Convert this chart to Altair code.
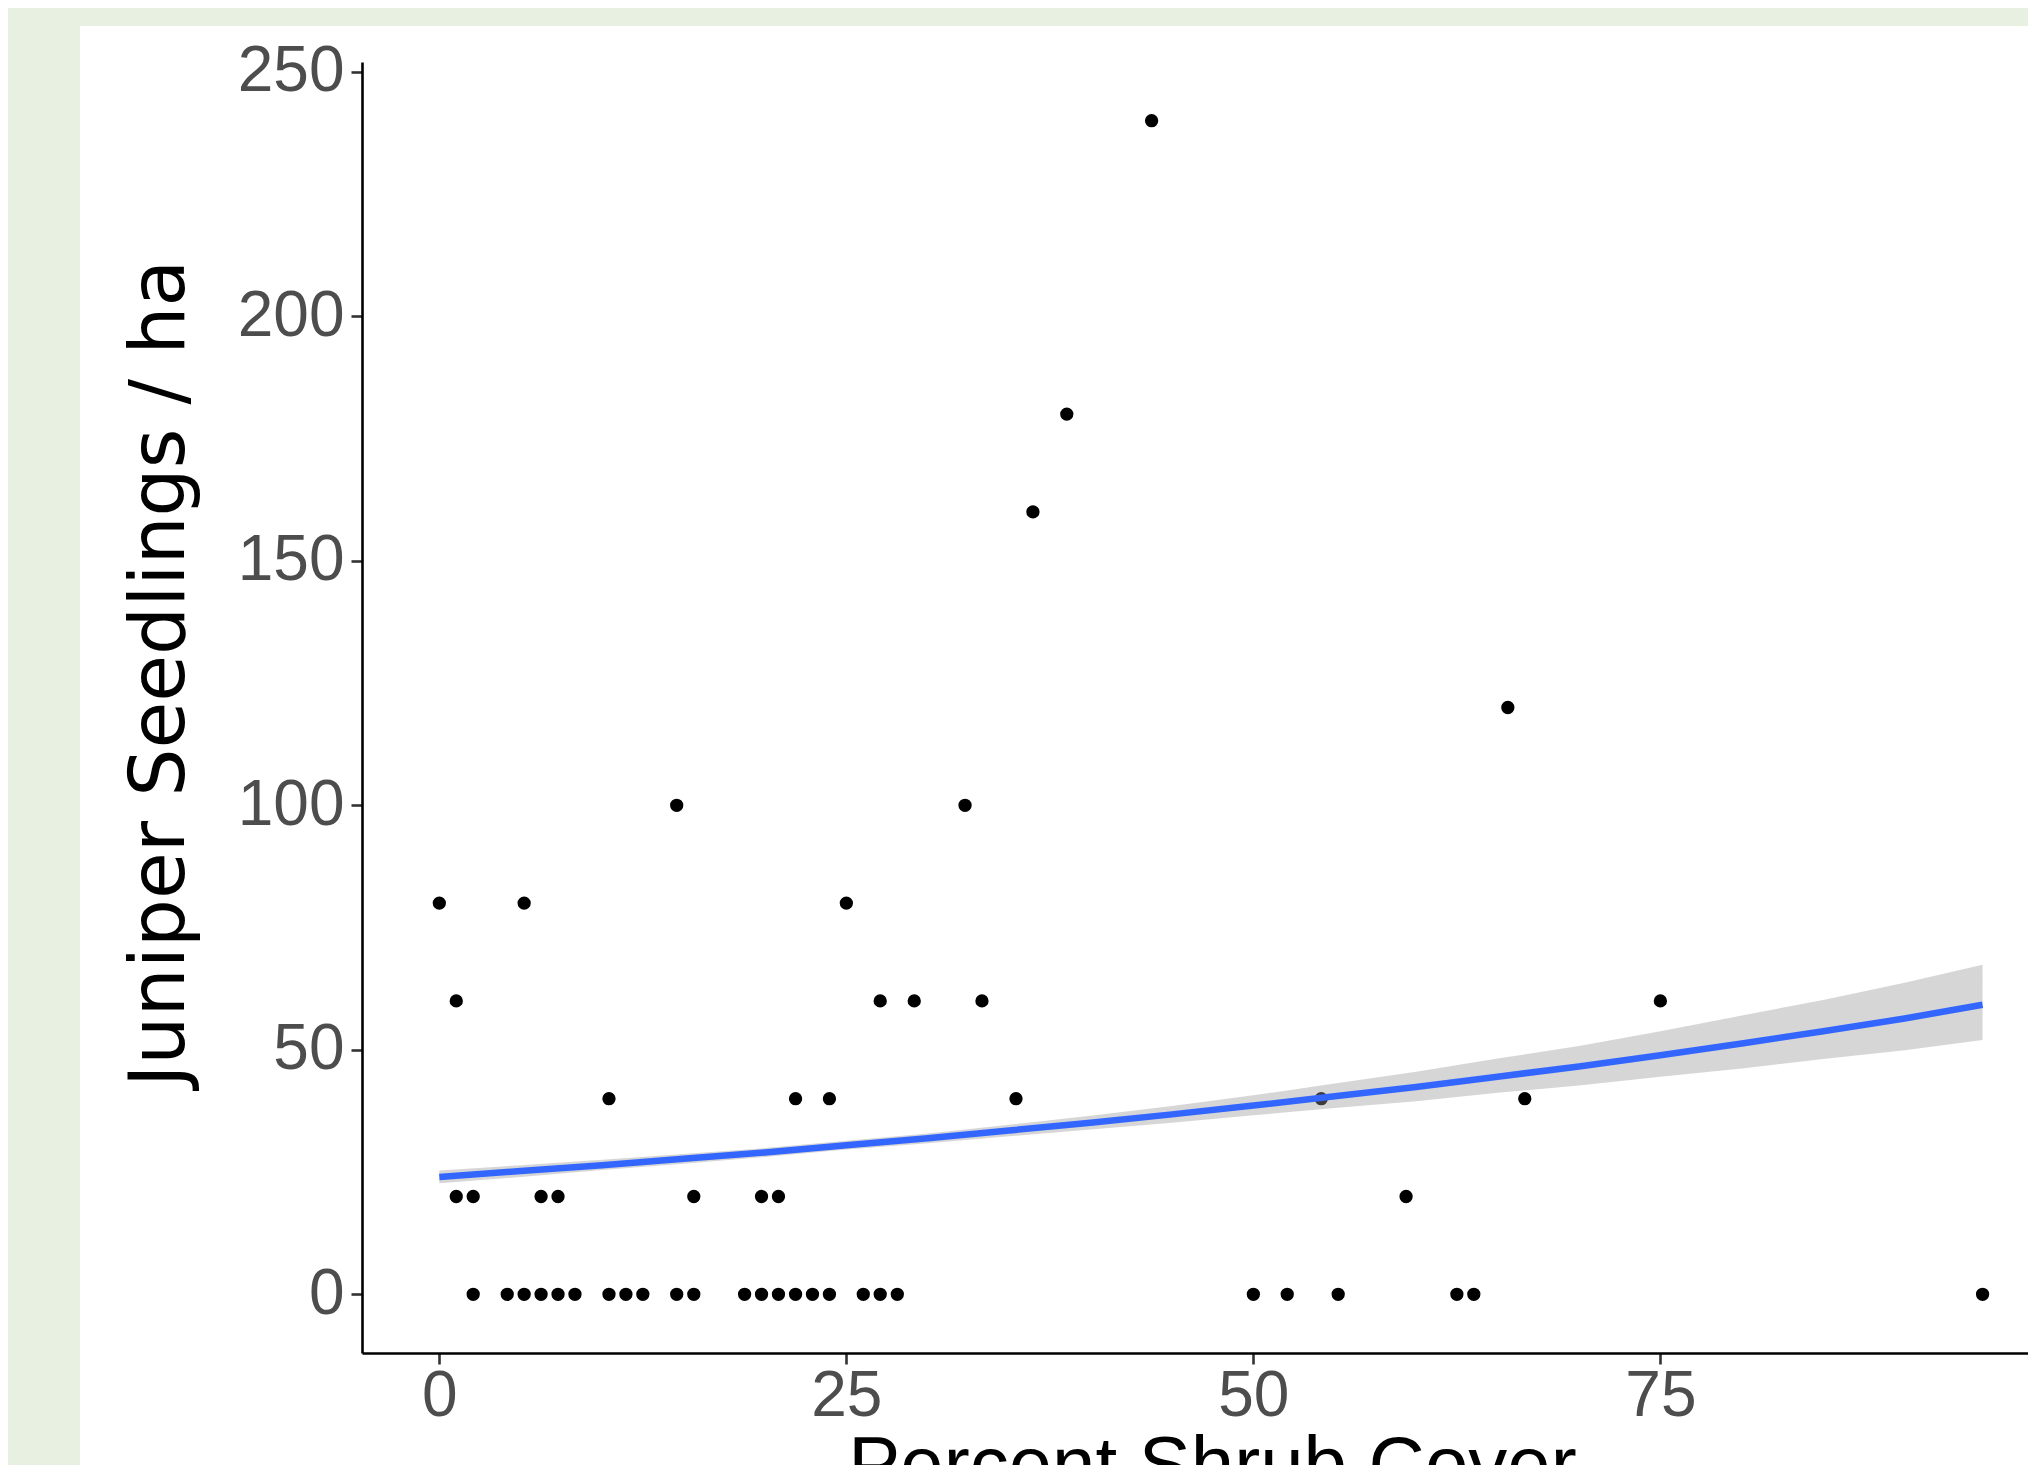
import altair as alt
import pandas as pd

# ---- data ----
shrub_cover = [
    2.08, 4.17, 5.21, 6.25, 7.29, 8.33, 10.42, 11.46, 12.50, 14.58, 15.63,
    18.75, 19.79, 20.83, 21.88, 22.92, 23.96, 26.04, 27.08, 28.13,
    50.00, 52.08, 55.21, 62.50, 63.54, 94.79,
    1.04, 2.08, 6.25, 7.29, 15.63, 19.79, 20.83, 59.38,
    10.42, 21.88, 23.96, 35.42, 54.17, 66.67,
    1.04, 27.08, 29.17, 33.33, 75.00,
    0.00, 5.21, 25.00,
    14.58, 32.29,
    65.63,
    36.46,
    38.54,
    43.75,
]
seedlings = (
    [0] * 26
    + [20] * 8
    + [40] * 6
    + [60] * 5
    + [80] * 3
    + [100] * 2
    + [120]
    + [160]
    + [180]
    + [240]
)

fit_x = [0, 5, 10, 15, 20, 25, 30, 35, 40, 45, 50, 55, 60, 65, 70, 75, 80, 85, 90, 94.79]
fit_mid = [24.0, 25.2, 26.4, 27.7, 29.0, 30.5, 31.9, 33.5, 35.1, 36.8,
           38.6, 40.5, 42.4, 44.5, 46.6, 48.9, 51.3, 53.8, 56.4, 59.2]
fit_lo = [22.7, 24.0, 25.4, 26.7, 28.1, 29.6, 30.9, 32.3, 33.7, 35.1,
          36.6, 38.1, 39.5, 41.2, 42.7, 44.5, 46.2, 48.1, 49.9, 52.0]
fit_hi = [25.3, 26.4, 27.5, 28.7, 29.9, 31.4, 32.9, 34.7, 36.5, 38.5,
          40.7, 43.1, 45.5, 48.2, 50.8, 53.8, 57.0, 60.2, 63.7, 67.4]

x_ticks = [0, 25, 50, 75]
y_ticks = [0, 50, 100, 150, 200, 250]

pts = pd.DataFrame({"cover": shrub_cover, "seedlings": seedlings})
fit = pd.DataFrame({"cover": fit_x, "fit": fit_mid, "lo": fit_lo, "hi": fit_hi})

W, H = 1666, 1291
xs = alt.Scale(domain=[-4.75, 97.58], nice=False, zero=False)
ys = alt.Scale(domain=[-12, 252], nice=False, zero=False)

x_axis = alt.Axis(
    values=x_ticks, title="Percent Shrub Cover", grid=False, zindex=1,
    domainColor="black", domainWidth=2.6, tickColor="#333333", tickWidth=2.6,
    tickSize=11, labelPadding=0, labelFont="Liberation Sans", labelFontSize=64,
    labelColor="#4d4d4d", titleFont="Liberation Sans", titleFontSize=78,
    titleFontWeight="normal", titleColor="black", titleBaseline="alphabetic",
    titleX=850, titleY=137,
)
y_axis = alt.Axis(
    values=y_ticks, title="Juniper Seedlings / ha", grid=False, zindex=1,
    domainColor="black", domainWidth=2.6, tickColor="#333333", tickWidth=2.6,
    tickSize=11, labelPadding=7, labelFont="Liberation Sans", labelFontSize=64,
    labelColor="#4d4d4d", titleFont="DejaVu Sans", titleFontSize=76,
    titleFontWeight="normal", titleColor="black", titleAngle=270,
    titleBaseline="alphabetic", titleAlign="center", titleX=-179, titleY=611,
)

panel = alt.Chart(pd.DataFrame({"a": [0]})).mark_rect(color="white").encode(
    x=alt.value(-282), x2=alt.value(W + 200), y=alt.value(-36), y2=alt.value(H + 400)
)

points = alt.Chart(pts).mark_circle(size=177, color="black", opacity=1).encode(
    x=alt.X("cover:Q", scale=xs, axis=x_axis),
    y=alt.Y("seedlings:Q", scale=ys, axis=y_axis),
)

band = alt.Chart(fit).mark_area(color="#999999", opacity=0.4).encode(
    x=alt.X("cover:Q", scale=xs),
    y=alt.Y("lo:Q", scale=ys),
    y2="hi:Q",
)

line = alt.Chart(fit).mark_line(color="#3366FF", strokeWidth=6.5).encode(
    x=alt.X("cover:Q", scale=xs),
    y=alt.Y("fit:Q", scale=ys),
)

chart = (
    alt.layer(panel, points, band, line)
    .properties(
        width=W, height=H,
        autosize=alt.AutoSizeParams(type="none"),
        padding={"left": 354, "top": 54, "right": 0, "bottom": 112},
        background="#e8f1e1",
    )
    .configure_view(stroke=None)
)

chart.save("out.html", embed_options={"renderer": "svg", "actions": False})
